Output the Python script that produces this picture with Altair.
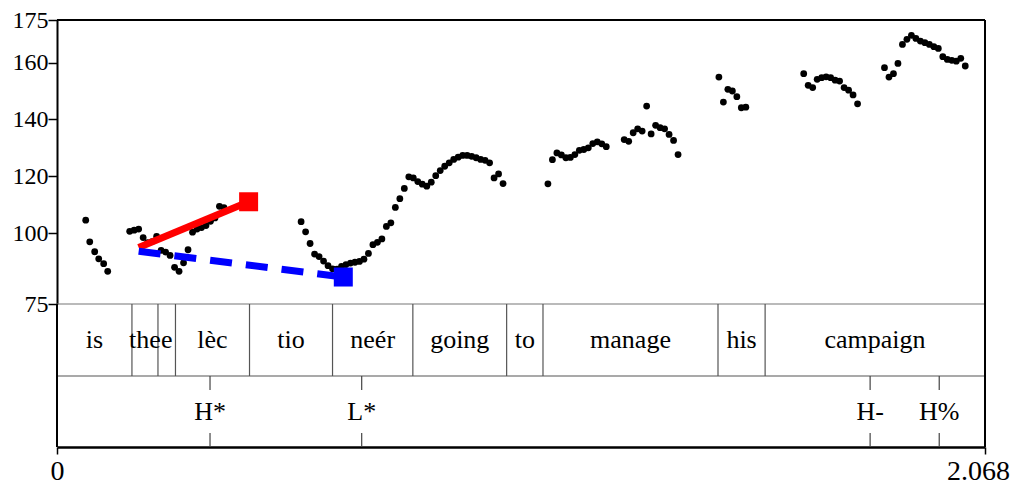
import altair as alt
import pandas as pd

T_MAX = 2.068
FONT = "Liberation Serif"

# ---- pitch samples: time (s) and F0 (Hz) ----
g1_t = [0.064, 0.073, 0.084, 0.093, 0.104, 0.113]
g1_hz = [104.5, 96.9, 93.4, 90.9, 89.2, 86.5]

g2_t = [0.162, 0.172, 0.182, 0.192, 0.202, 0.212, 0.222, 0.232, 0.242, 0.252, 0.262,
        0.272, 0.282, 0.292, 0.302, 0.312, 0.322, 0.332, 0.342, 0.352, 0.362, 0.372]
g2_hz = [100.6, 101.0, 101.4, 98.4, 96.6, 97.0, 98.8, 93.9, 93.3, 92.1, 87.9,
         86.5, 89.5, 94.1, 100.3, 101.4, 101.9, 102.6, 104.1, 105.3, 109.4, 108.9]

g3_t = [0.544, 0.554, 0.564, 0.574, 0.584, 0.594, 0.604, 0.614, 0.624, 0.634,
        0.644, 0.654, 0.664, 0.674, 0.684, 0.694, 0.704, 0.714, 0.724, 0.734,
        0.744, 0.754, 0.764, 0.774, 0.784, 0.794, 0.804, 0.814, 0.824, 0.834,
        0.844, 0.854, 0.864, 0.874, 0.884, 0.894, 0.904, 0.914, 0.924, 0.934,
        0.944, 0.954, 0.964, 0.974, 0.984, 0.994]
g3_hz = [104.0, 100.4, 96.3, 92.6, 91.7, 90.1, 88.5, 87.4, 87.3, 88.2,
         88.9, 89.4, 89.7, 90.0, 90.8, 92.8, 95.9, 96.7, 97.9, 102.3,
         103.6, 109.0, 112.1, 115.7, 119.8, 119.4, 118.1, 117.2, 116.5, 117.9,
         120.2, 122.0, 123.5, 124.7, 125.9, 126.7, 127.3, 127.3, 127.0, 126.5,
         125.9, 125.6, 124.7, 119.4, 120.8, 117.4]

g4_t = [1.094, 1.104, 1.114, 1.124, 1.134, 1.144, 1.154, 1.164, 1.174, 1.184,
        1.194, 1.204, 1.214, 1.224]
g4_hz = [117.3, 125.8, 128.2, 127.5, 126.5, 126.6, 127.6, 129.1, 129.4, 130.0,
         131.5, 132.1, 131.4, 130.4]

g5_t = [1.264, 1.274, 1.284, 1.294, 1.304, 1.314, 1.324, 1.334, 1.344, 1.354,
        1.364, 1.374, 1.384]
g5_hz = [132.9, 132.3, 135.3, 136.7, 135.9, 144.7, 134.9, 137.9, 137.1, 136.7,
         134.7, 132.6, 127.6]

g6_t = [1.475, 1.485, 1.495, 1.505, 1.515, 1.525, 1.535]
g6_hz = [154.9, 146.1, 150.6, 150.0, 148.0, 144.1, 144.3]

g7_t = [1.664, 1.674, 1.684, 1.694, 1.704, 1.714, 1.724, 1.734, 1.744, 1.754,
        1.764, 1.774, 1.784]
g7_hz = [156.1, 152.0, 151.2, 154.1, 154.7, 155.0, 154.7, 153.8, 153.5, 151.2,
         150.3, 148.6, 145.5]

g8_t = [1.844, 1.854, 1.864, 1.874, 1.884, 1.894, 1.904, 1.914, 1.924, 1.934,
        1.944, 1.954, 1.964, 1.974, 1.984, 1.994, 2.004, 2.014, 2.024]
g8_hz = [158.2, 154.9, 156.1, 159.7, 166.4, 168.2, 169.6, 168.5, 167.6, 167.0,
         166.4, 165.6, 165.0, 162.1, 161.1, 160.8, 160.5, 161.5, 158.8]

# ---- stylised contours ----
red_t = [0.182, 0.427]
red_hz = [94.9, 111.0]
blue_t = [0.182, 0.638]
blue_hz = [93.6, 84.5]

# ---- tier 1: words (interval tier) ----
word_labels = ["is", "the", "e", "lèc", "tio", "neér", "going", "to", "manage", "his", "campaign"]
word_start = [0.0, 0.167, 0.225, 0.264, 0.429, 0.614, 0.793, 1.002, 1.083, 1.473, 1.578]
word_end = [0.167, 0.225, 0.264, 0.429, 0.614, 0.793, 1.002, 1.083, 1.473, 1.578, 2.068]

# ---- tier 2: tones (point tier) ----
tone_labels = ["H*", "L*", "H-", "H%"]
tone_t = [0.341, 0.679, 1.812, 1.966]

# ---- y ticks ----
y_ticks = [75, 100, 120, 140, 160, 175]

W = 928
H1, H2, H3 = 284, 72, 71

pitch = pd.DataFrame({
    "t": g1_t + g2_t + g3_t + g4_t + g5_t + g6_t + g7_t + g8_t,
    "hz": g1_hz + g2_hz + g3_hz + g4_hz + g5_hz + g6_hz + g7_hz + g8_hz,
})
red_df = pd.DataFrame({"t": red_t, "hz": red_hz, "end": [0, 1]})
blue_df = pd.DataFrame({"t": blue_t, "hz": blue_hz, "end": [0, 1]})
words = pd.DataFrame({"label": word_labels, "start": word_start, "end": word_end})
tones = pd.DataFrame({"label": tone_labels, "t": tone_t})
one = pd.DataFrame({"k": [0]})

xscale = alt.Scale(domain=[0, T_MAX], nice=False, zero=False)
yscale = alt.Scale(domain=[75, 175], nice=False, zero=False)

yaxis = alt.Axis(values=y_ticks, title="", grid=False, tickSize=9, tickWidth=1.5,
                 tickColor="black", labelPadding=0, labelFontSize=24, labelFont=FONT,
                 labelColor="black", domainColor="black", domainWidth=2)

X = alt.X("t:Q", scale=xscale, axis=None)
Y = alt.Y("hz:Q", scale=yscale, axis=yaxis)

points = alt.Chart(pitch).mark_circle(size=46, color="black", opacity=1).encode(x=X, y=Y)

red_line = alt.Chart(red_df).mark_line(color="#ff0000", strokeWidth=7, strokeCap="butt").encode(x=X, y=Y)
red_sq = alt.Chart(red_df).transform_filter("datum.end == 1").mark_square(
    size=361, color="#ff0000", opacity=1).encode(x=X, y=Y)
blue_line = alt.Chart(blue_df).mark_line(color="#0000ff", strokeWidth=7, strokeDash=[22, 14],
                                          strokeCap="butt").encode(x=X, y=Y)
blue_sq = alt.Chart(blue_df).transform_filter("datum.end == 1").mark_square(
    size=361, color="#0000ff", opacity=1).encode(x=X, y=Y)

top_line = alt.Chart(one).mark_rule(color="black", strokeWidth=2).encode(
    x=alt.value(0), x2=alt.value(W), y=alt.value(0))
right1 = alt.Chart(one).mark_rule(color="black", strokeWidth=2).encode(
    x=alt.value(W), y=alt.value(0), y2=alt.value(H1))
bottom1 = alt.Chart(one).mark_rule(color="#777777", strokeWidth=1.2).encode(
    x=alt.value(0), x2=alt.value(W), y=alt.value(H1))

pitch_panel = alt.layer(points, red_line, red_sq, blue_line, blue_sq, bottom1, top_line, right1).properties(
    width=W, height=H1)

# ---- tier 1 panel ----
left2 = alt.Chart(one).mark_rule(color="black", strokeWidth=2).encode(
    x=alt.value(0), y=alt.value(0), y2=alt.value(H2))
right2 = alt.Chart(one).mark_rule(color="black", strokeWidth=2).encode(
    x=alt.value(W), y=alt.value(0), y2=alt.value(H2))
bottom2 = alt.Chart(one).mark_rule(color="#555555", strokeWidth=1.2).encode(
    x=alt.value(0), x2=alt.value(W), y=alt.value(H2))
bounds_r = alt.Chart(words).transform_filter("datum.start > 0").mark_rule(
    color="#555555", strokeWidth=1.2).encode(
    x=alt.X("start:Q", scale=xscale, axis=None), y=alt.value(0), y2=alt.value(H2))
word_text = alt.Chart(words).transform_calculate(mid="(datum.start + datum.end) / 2").mark_text(
    font=FONT, fontSize=26, color="black", baseline="middle", align="center").encode(
    x=alt.X("mid:Q", scale=xscale, axis=None), y=alt.value(H2 / 2), text="label:N")

tier1 = alt.layer(bounds_r, word_text, bottom2, left2, right2).properties(width=W, height=H2)

# ---- tier 2 panel ----
xaxis = alt.Axis(values=[0, T_MAX], title="", grid=False, tickSize=7, tickWidth=1.5,
                 tickColor="black", domainColor="black", domainWidth=2.5,
                 labelFontSize=28, labelFont=FONT, labelColor="black", labelPadding=3,
                 labelFlush=False,
                 labelExpr="datum.value == 0 ? '0' : format(datum.value, '.3f')",
                 labelOffset={"condition": {"test": "datum.value > 1", "value": -7}, "value": 0})
XT = alt.X("t:Q", scale=xscale, axis=xaxis)

left3 = alt.Chart(one).mark_rule(color="black", strokeWidth=2).encode(
    x=alt.value(0), y=alt.value(0), y2=alt.value(H3))
right3 = alt.Chart(one).mark_rule(color="black", strokeWidth=2).encode(
    x=alt.value(W), y=alt.value(0), y2=alt.value(H3))
tick_top = alt.Chart(tones).mark_rule(color="#444444", strokeWidth=1.2).encode(
    x=XT, y=alt.value(0), y2=alt.value(14))
tick_bot = alt.Chart(tones).mark_rule(color="#444444", strokeWidth=1.2).encode(
    x=XT, y=alt.value(H3 - 14), y2=alt.value(H3))
tone_text = alt.Chart(tones).mark_text(
    font=FONT, fontSize=26, color="black", baseline="middle", align="center").encode(
    x=XT, y=alt.value(H3 / 2), text="label:N")

tier2 = alt.layer(tick_top, tick_bot, tone_text, left3, right3).properties(width=W, height=H3)

chart = alt.vconcat(pitch_panel, tier1, tier2, spacing=0, bounds="flush").properties(
    padding={"left": 4, "top": 0, "right": 0, "bottom": 0}
).configure_view(stroke="transparent", strokeWidth=0)

chart.save("out.html", embed_options={"renderer": "svg", "actions": False})
